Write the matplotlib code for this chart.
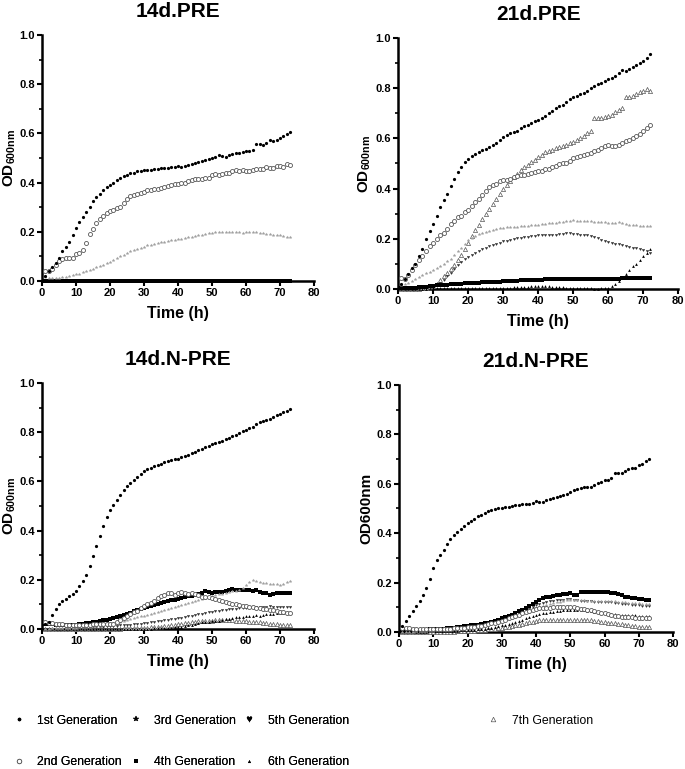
import numpy as np
import matplotlib
matplotlib.use("Agg")
import matplotlib.pyplot as plt
from matplotlib.lines import Line2D
from matplotlib.ticker import MultipleLocator, FormatStrFormatter

plt.rcParams['font.family'] = ['Liberation Sans', 'DejaVu Sans']
plt.rcParams['mathtext.fontset'] = 'custom'
plt.rcParams['mathtext.rm'] = 'Liberation Sans:bold'
plt.rcParams['mathtext.it'] = 'Liberation Sans:bold'
plt.rcParams['mathtext.bf'] = 'Liberation Sans:bold'

# ---------------- data (OD600 readings, one per hour) ----------------
hours = np.arange(1, 74)      # 14d.PRE, 14d.N-PRE, 21d.N-PRE
hours_72 = np.arange(1, 73)   # 21d.PRE

generations = ['1st Generation', '2nd Generation', '3rd Generation', '4th Generation',
               '5th Generation', '6th Generation', '7th Generation']

# 14d.PRE
pre14_g1 = [0.020, 0.040, 0.055, 0.075, 0.095, 0.120, 0.140, 0.160, 0.185, 0.215,
            0.240, 0.260, 0.280, 0.300, 0.325, 0.340, 0.355, 0.370, 0.380, 0.390,
            0.400, 0.410, 0.420, 0.425, 0.432, 0.437, 0.440, 0.445, 0.447, 0.450,
            0.450, 0.452, 0.455, 0.457, 0.458, 0.460, 0.460, 0.462, 0.465, 0.467,
            0.462, 0.467, 0.472, 0.475, 0.480, 0.485, 0.488, 0.490, 0.495, 0.500,
            0.505, 0.510, 0.508, 0.505, 0.510, 0.515, 0.520, 0.522, 0.525, 0.530,
            0.530, 0.532, 0.558, 0.555, 0.552, 0.560, 0.572, 0.568, 0.572, 0.580,
            0.588, 0.597, 0.607]
pre14_g2 = [0.040, 0.040, 0.050, 0.065, 0.080, 0.090, 0.095, 0.095, 0.095, 0.110,
            0.115, 0.125, 0.155, 0.190, 0.210, 0.235, 0.250, 0.265, 0.275, 0.285,
            0.290, 0.295, 0.300, 0.315, 0.335, 0.345, 0.348, 0.352, 0.358, 0.362,
            0.368, 0.370, 0.372, 0.375, 0.378, 0.382, 0.385, 0.390, 0.393, 0.395,
            0.397, 0.400, 0.405, 0.410, 0.413, 0.415, 0.415, 0.418, 0.420, 0.430,
            0.435, 0.432, 0.435, 0.438, 0.440, 0.447, 0.450, 0.448, 0.452, 0.447,
            0.447, 0.450, 0.455, 0.455, 0.455, 0.462, 0.460, 0.460, 0.468, 0.468,
            0.465, 0.475, 0.473]
pre14_g3 = [0.015, 0.013, 0.012, 0.012, 0.013, 0.015, 0.018, 0.020, 0.023, 0.027,
            0.030, 0.035, 0.040, 0.045, 0.050, 0.055, 0.060, 0.065, 0.072, 0.078,
            0.085, 0.092, 0.100, 0.107, 0.113, 0.120, 0.125, 0.130, 0.135, 0.140,
            0.145, 0.148, 0.152, 0.155, 0.158, 0.160, 0.163, 0.165, 0.168, 0.170,
            0.172, 0.175, 0.177, 0.180, 0.182, 0.185, 0.187, 0.190, 0.193, 0.197,
            0.198, 0.200, 0.200, 0.200, 0.200, 0.200, 0.199, 0.198, 0.197, 0.198,
            0.200, 0.199, 0.198, 0.196, 0.193, 0.192, 0.190, 0.188, 0.186, 0.185,
            0.182, 0.178, 0.178]
pre14_g4 = [0.000, 0.000, 0.000, 0.000, 0.000, 0.000, 0.000, 0.000, 0.000, 0.000,
            0.000, 0.000, 0.000, 0.000, 0.000, 0.000, 0.000, 0.000, 0.000, 0.000,
            0.000, 0.000, 0.000, 0.000, 0.000, 0.000, 0.000, 0.000, 0.000, 0.000,
            0.000, 0.000, 0.000, 0.000, 0.000, 0.000, 0.000, 0.000, 0.000, 0.000,
            0.000, 0.000, 0.000, 0.000, 0.000, 0.000, 0.000, 0.000, 0.000, 0.000,
            0.000, 0.000, 0.000, 0.000, 0.000, 0.000, 0.000, 0.000, 0.000, 0.000,
            0.000, 0.000, 0.000, 0.000, 0.000, 0.000, 0.000, 0.000, 0.000, 0.000,
            0.000, 0.000, 0.000]

# 21d.PRE
pre21_g1 = [0.020, 0.040, 0.060, 0.083, 0.100, 0.130, 0.160, 0.200, 0.230, 0.260,
            0.290, 0.325, 0.355, 0.380, 0.410, 0.440, 0.465, 0.487, 0.505, 0.518,
            0.530, 0.537, 0.545, 0.552, 0.558, 0.565, 0.572, 0.580, 0.592, 0.605,
            0.615, 0.620, 0.625, 0.630, 0.640, 0.648, 0.655, 0.662, 0.670, 0.675,
            0.682, 0.690, 0.700, 0.710, 0.720, 0.728, 0.735, 0.745, 0.755, 0.765,
            0.770, 0.775, 0.782, 0.790, 0.800, 0.808, 0.815, 0.822, 0.830, 0.835,
            0.842, 0.850, 0.860, 0.872, 0.870, 0.875, 0.885, 0.893, 0.900, 0.910,
            0.922, 0.935]
pre21_g2 = [0.045, 0.040, 0.055, 0.075, 0.095, 0.115, 0.130, 0.150, 0.170, 0.185,
            0.200, 0.215, 0.225, 0.240, 0.260, 0.270, 0.285, 0.290, 0.305, 0.315,
            0.330, 0.345, 0.360, 0.375, 0.390, 0.405, 0.415, 0.420, 0.430, 0.435,
            0.435, 0.440, 0.445, 0.450, 0.455, 0.455, 0.460, 0.462, 0.467, 0.470,
            0.470, 0.478, 0.480, 0.485, 0.490, 0.498, 0.500, 0.503, 0.510, 0.520,
            0.525, 0.528, 0.535, 0.537, 0.543, 0.550, 0.555, 0.560, 0.568, 0.575,
            0.570, 0.568, 0.572, 0.580, 0.590, 0.595, 0.600, 0.610, 0.618, 0.630,
            0.640, 0.652]
pre21_g3 = [0.015, 0.020, 0.025, 0.032, 0.040, 0.048, 0.055, 0.062, 0.068, 0.075,
            0.083, 0.090, 0.100, 0.110, 0.120, 0.135, 0.150, 0.165, 0.180, 0.195,
            0.205, 0.212, 0.218, 0.223, 0.228, 0.232, 0.236, 0.239, 0.242, 0.244,
            0.245, 0.246, 0.247, 0.248, 0.249, 0.250, 0.252, 0.253, 0.254, 0.255,
            0.258, 0.260, 0.262, 0.262, 0.264, 0.266, 0.268, 0.270, 0.272, 0.273,
            0.272, 0.270, 0.270, 0.271, 0.270, 0.268, 0.268, 0.266, 0.265, 0.262,
            0.262, 0.264, 0.265, 0.262, 0.260, 0.256, 0.255, 0.253, 0.252, 0.250,
            0.250, 0.250]
pre21_g4 = [0.002, 0.003, 0.004, 0.004, 0.005, 0.006, 0.007, 0.008, 0.010, 0.012,
            0.014, 0.015, 0.016, 0.017, 0.018, 0.019, 0.020, 0.021, 0.022, 0.022,
            0.023, 0.024, 0.025, 0.026, 0.026, 0.027, 0.028, 0.028, 0.029, 0.030,
            0.031, 0.032, 0.032, 0.033, 0.034, 0.034, 0.035, 0.036, 0.036, 0.037,
            0.037, 0.038, 0.038, 0.038, 0.039, 0.039, 0.039, 0.040, 0.040, 0.040,
            0.040, 0.040, 0.040, 0.040, 0.040, 0.040, 0.040, 0.040, 0.041, 0.041,
            0.041, 0.041, 0.041, 0.042, 0.042, 0.042, 0.042, 0.042, 0.042, 0.042,
            0.042, 0.042]
pre21_g5 = [0.000, 0.000, 0.001, 0.002, 0.003, 0.004, 0.005, 0.007, 0.009, 0.010,
            0.015, 0.025, 0.035, 0.050, 0.065, 0.080, 0.095, 0.107, 0.118, 0.128,
            0.137, 0.145, 0.152, 0.158, 0.164, 0.170, 0.175, 0.180, 0.185, 0.190,
            0.193, 0.196, 0.199, 0.202, 0.205, 0.207, 0.209, 0.211, 0.213, 0.215,
            0.216, 0.217, 0.217, 0.216, 0.217, 0.218, 0.220, 0.222, 0.222, 0.220,
            0.218, 0.216, 0.215, 0.215, 0.212, 0.207, 0.202, 0.196, 0.190, 0.186,
            0.183, 0.180, 0.180, 0.177, 0.172, 0.168, 0.165, 0.162, 0.158, 0.155,
            0.150, 0.145]
pre21_g6 = [0.000, 0.000, 0.000, 0.000, 0.000, 0.001, 0.001, 0.001, 0.002, 0.002,
            0.002, 0.002, 0.002, 0.002, 0.002, 0.002, 0.002, 0.003, 0.003, 0.003,
            0.003, 0.003, 0.003, 0.003, 0.003, 0.003, 0.003, 0.004, 0.004, 0.004,
            0.005, 0.005, 0.006, 0.007, 0.008, 0.008, 0.009, 0.010, 0.011, 0.012,
            0.012, 0.011, 0.010, 0.009, 0.008, 0.007, 0.006, 0.005, 0.005, 0.004,
            0.004, 0.003, 0.003, 0.002, 0.002, 0.001, 0.001, 0.002, 0.003, 0.005,
            0.010, 0.020, 0.030, 0.045, 0.060, 0.075, 0.090, 0.100, 0.115, 0.130,
            0.145, 0.160]
pre21_g7 = [0.000, 0.000, 0.000, 0.000, 0.000, 0.000, 0.003, 0.005, 0.008, 0.012,
            0.020, 0.035, 0.050, 0.065, 0.080, 0.095, 0.115, 0.135, 0.160, 0.185,
            0.210, 0.235, 0.255, 0.280, 0.300, 0.320, 0.340, 0.360, 0.380, 0.400,
            0.415, 0.430, 0.445, 0.460, 0.475, 0.485, 0.495, 0.505, 0.515, 0.525,
            0.535, 0.545, 0.550, 0.555, 0.560, 0.565, 0.570, 0.575, 0.580, 0.585,
            0.595, 0.600, 0.610, 0.620, 0.630, 0.680, 0.680, 0.682, 0.685, 0.690,
            0.695, 0.705, 0.712, 0.720, 0.765, 0.765, 0.770, 0.775, 0.785, 0.790,
            0.795, 0.790]

# 14d.N-PRE
npre14_g1 = [0.022, 0.030, 0.058, 0.080, 0.100, 0.115, 0.122, 0.133, 0.144, 0.155,
             0.173, 0.194, 0.220, 0.255, 0.295, 0.336, 0.380, 0.417, 0.455, 0.485,
             0.505, 0.526, 0.543, 0.566, 0.583, 0.593, 0.604, 0.618, 0.631, 0.641,
             0.650, 0.656, 0.662, 0.667, 0.672, 0.677, 0.681, 0.685, 0.689, 0.693,
             0.698, 0.703, 0.708, 0.714, 0.720, 0.726, 0.732, 0.738, 0.745, 0.750,
             0.755, 0.760, 0.766, 0.772, 0.778, 0.784, 0.790, 0.796, 0.803, 0.810,
             0.816, 0.822, 0.835, 0.840, 0.845, 0.850, 0.855, 0.862, 0.868, 0.875,
             0.882, 0.888, 0.895]
npre14_g2 = [0.028, 0.025, 0.023, 0.022, 0.020, 0.019, 0.018, 0.018, 0.018, 0.018,
             0.018, 0.018, 0.018, 0.018, 0.019, 0.019, 0.020, 0.020, 0.020, 0.021,
             0.022, 0.030, 0.037, 0.045, 0.052, 0.060, 0.068, 0.075, 0.085, 0.095,
             0.100, 0.105, 0.115, 0.125, 0.135, 0.140, 0.145, 0.148, 0.140, 0.145,
             0.150, 0.148, 0.143, 0.148, 0.142, 0.138, 0.132, 0.130, 0.130, 0.125,
             0.122, 0.118, 0.114, 0.110, 0.106, 0.103, 0.100, 0.097, 0.094, 0.092,
             0.090, 0.088, 0.086, 0.085, 0.083, 0.081, 0.078, 0.076, 0.073, 0.070,
             0.068, 0.066, 0.064]
npre14_g3 = [0.002, 0.002, 0.003, 0.003, 0.004, 0.004, 0.005, 0.005, 0.006, 0.006,
             0.007, 0.008, 0.009, 0.010, 0.011, 0.012, 0.014, 0.016, 0.018, 0.020,
             0.023, 0.026, 0.029, 0.032, 0.035, 0.039, 0.043, 0.047, 0.051, 0.055,
             0.059, 0.063, 0.067, 0.071, 0.075, 0.079, 0.083, 0.087, 0.091, 0.095,
             0.099, 0.103, 0.107, 0.111, 0.115, 0.119, 0.123, 0.127, 0.131, 0.135,
             0.138, 0.141, 0.144, 0.147, 0.150, 0.153, 0.156, 0.160, 0.168, 0.180,
             0.192, 0.200, 0.195, 0.190, 0.188, 0.186, 0.185, 0.184, 0.182, 0.180,
             0.185, 0.190, 0.195]
npre14_g4 = [0.022, 0.022, 0.020, 0.018, 0.016, 0.015, 0.015, 0.016, 0.017, 0.018,
             0.020, 0.022, 0.024, 0.026, 0.028, 0.030, 0.032, 0.035, 0.038, 0.042,
             0.046, 0.050, 0.054, 0.058, 0.063, 0.067, 0.072, 0.077, 0.082, 0.087,
             0.090, 0.094, 0.098, 0.102, 0.106, 0.110, 0.114, 0.117, 0.120, 0.124,
             0.127, 0.130, 0.133, 0.136, 0.140, 0.143, 0.146, 0.155, 0.150, 0.148,
             0.150, 0.151, 0.152, 0.155, 0.157, 0.162, 0.160, 0.158, 0.158, 0.157,
             0.157, 0.156, 0.157, 0.150, 0.148, 0.145, 0.140, 0.142, 0.145, 0.148,
             0.146, 0.146, 0.146]
npre14_g5 = [0.000, 0.000, 0.001, 0.001, 0.002, 0.002, 0.003, 0.003, 0.004, 0.004,
             0.005, 0.005, 0.006, 0.006, 0.007, 0.008, 0.009, 0.010, 0.011, 0.012,
             0.013, 0.014, 0.015, 0.016, 0.017, 0.018, 0.019, 0.020, 0.021, 0.023,
             0.025, 0.027, 0.029, 0.031, 0.033, 0.035, 0.037, 0.039, 0.041, 0.043,
             0.045, 0.048, 0.051, 0.054, 0.057, 0.060, 0.063, 0.066, 0.068, 0.070,
             0.072, 0.074, 0.076, 0.078, 0.080, 0.081, 0.083, 0.084, 0.086, 0.087,
             0.088, 0.089, 0.089, 0.090, 0.091, 0.091, 0.092, 0.091, 0.090, 0.090,
             0.090, 0.090, 0.090]
npre14_g6 = [0.000, 0.000, 0.000, 0.000, 0.000, 0.000, 0.000, 0.000, 0.000, 0.000,
             0.000, 0.000, 0.000, 0.000, 0.000, 0.000, 0.000, 0.000, 0.000, 0.001,
             0.001, 0.001, 0.001, 0.001, 0.001, 0.001, 0.001, 0.001, 0.001, 0.001,
             0.002, 0.002, 0.003, 0.003, 0.004, 0.004, 0.005, 0.006, 0.007, 0.008,
             0.010, 0.012, 0.015, 0.018, 0.021, 0.024, 0.027, 0.030, 0.030, 0.031,
             0.032, 0.034, 0.036, 0.040, 0.042, 0.045, 0.047, 0.048, 0.050, 0.052,
             0.053, 0.055, 0.057, 0.055, 0.058, 0.060, 0.062, 0.060, 0.064, 0.066,
             0.064, 0.066, 0.065]
npre14_g7 = [0.000, 0.000, 0.000, 0.000, 0.000, 0.000, 0.000, 0.000, 0.000, 0.000,
             0.000, 0.000, 0.000, 0.000, 0.000, 0.001, 0.001, 0.001, 0.001, 0.001,
             0.002, 0.002, 0.002, 0.003, 0.003, 0.003, 0.004, 0.004, 0.005, 0.005,
             0.006, 0.007, 0.008, 0.009, 0.010, 0.012, 0.014, 0.016, 0.018, 0.020,
             0.022, 0.024, 0.026, 0.028, 0.030, 0.031, 0.032, 0.033, 0.034, 0.034,
             0.035, 0.036, 0.036, 0.037, 0.036, 0.035, 0.034, 0.033, 0.032, 0.031,
             0.030, 0.030, 0.030, 0.028, 0.026, 0.024, 0.022, 0.020, 0.019, 0.018,
             0.017, 0.016, 0.015]

# 21d.N-PRE
npre21_g1 = [0.026, 0.043, 0.063, 0.084, 0.104, 0.127, 0.150, 0.178, 0.215, 0.258,
             0.293, 0.313, 0.333, 0.358, 0.377, 0.394, 0.406, 0.417, 0.430, 0.441,
             0.448, 0.459, 0.468, 0.475, 0.482, 0.488, 0.493, 0.497, 0.500, 0.502,
             0.505, 0.505, 0.510, 0.512, 0.515, 0.517, 0.520, 0.520, 0.522, 0.529,
             0.525, 0.528, 0.533, 0.538, 0.541, 0.545, 0.550, 0.555, 0.560, 0.567,
             0.573, 0.578, 0.582, 0.585, 0.585, 0.588, 0.595, 0.602, 0.607, 0.615,
             0.615, 0.622, 0.645, 0.645, 0.642, 0.650, 0.660, 0.662, 0.665, 0.675,
             0.682, 0.692, 0.700]
npre21_g2 = [0.015, 0.015, 0.015, 0.014, 0.013, 0.012, 0.011, 0.010, 0.010, 0.010,
             0.010, 0.011, 0.012, 0.013, 0.014, 0.015, 0.016, 0.017, 0.018, 0.019,
             0.020, 0.022, 0.024, 0.026, 0.029, 0.032, 0.035, 0.038, 0.042, 0.046,
             0.050, 0.055, 0.060, 0.065, 0.070, 0.075, 0.080, 0.085, 0.090, 0.094,
             0.096, 0.097, 0.098, 0.099, 0.100, 0.100, 0.101, 0.102, 0.103, 0.103,
             0.100, 0.097, 0.094, 0.091, 0.089, 0.087, 0.084, 0.081, 0.078, 0.075,
             0.072, 0.069, 0.066, 0.064, 0.062, 0.061, 0.060, 0.059, 0.058, 0.057,
             0.056, 0.055, 0.055]
npre21_g3 = [0.000, 0.000, 0.001, 0.001, 0.002, 0.002, 0.003, 0.003, 0.004, 0.005,
             0.006, 0.007, 0.008, 0.009, 0.010, 0.011, 0.013, 0.015, 0.017, 0.019,
             0.021, 0.023, 0.025, 0.027, 0.030, 0.033, 0.036, 0.039, 0.043, 0.047,
             0.051, 0.055, 0.060, 0.065, 0.070, 0.075, 0.080, 0.085, 0.090, 0.095,
             0.100, 0.104, 0.108, 0.112, 0.116, 0.120, 0.123, 0.126, 0.128, 0.130,
             0.130, 0.129, 0.128, 0.128, 0.127, 0.126, 0.125, 0.124, 0.124, 0.125,
             0.126, 0.127, 0.125, 0.123, 0.121, 0.120, 0.119, 0.118, 0.117, 0.116,
             0.115, 0.115, 0.114]
npre21_g4 = [0.005, 0.005, 0.005, 0.006, 0.006, 0.007, 0.008, 0.009, 0.010, 0.011,
             0.012, 0.013, 0.014, 0.015, 0.016, 0.018, 0.020, 0.022, 0.024, 0.026,
             0.027, 0.028, 0.030, 0.032, 0.035, 0.038, 0.042, 0.046, 0.050, 0.055,
             0.060, 0.065, 0.070, 0.076, 0.083, 0.090, 0.098, 0.106, 0.114, 0.122,
             0.130, 0.136, 0.140, 0.143, 0.145, 0.148, 0.150, 0.152, 0.155, 0.157,
             0.150, 0.148, 0.160, 0.162, 0.161, 0.160, 0.160, 0.161, 0.163, 0.162,
             0.160, 0.158, 0.157, 0.153, 0.148, 0.143, 0.140, 0.138, 0.137, 0.135,
             0.133, 0.131, 0.128]
npre21_g5 = [0.002, 0.002, 0.003, 0.003, 0.004, 0.004, 0.005, 0.006, 0.007, 0.008,
             0.009, 0.010, 0.011, 0.012, 0.013, 0.015, 0.017, 0.019, 0.021, 0.023,
             0.025, 0.027, 0.029, 0.031, 0.033, 0.036, 0.039, 0.042, 0.046, 0.050,
             0.054, 0.058, 0.063, 0.068, 0.074, 0.080, 0.087, 0.094, 0.101, 0.108,
             0.114, 0.118, 0.121, 0.124, 0.126, 0.128, 0.130, 0.131, 0.132, 0.132,
             0.130, 0.128, 0.127, 0.126, 0.125, 0.124, 0.123, 0.123, 0.122, 0.122,
             0.121, 0.120, 0.118, 0.116, 0.115, 0.113, 0.112, 0.111, 0.110, 0.108,
             0.107, 0.106, 0.105]
npre21_g6 = [0.000, 0.000, 0.000, 0.000, 0.001, 0.001, 0.001, 0.001, 0.002, 0.002,
             0.002, 0.003, 0.003, 0.004, 0.004, 0.005, 0.005, 0.006, 0.006, 0.007,
             0.008, 0.009, 0.010, 0.012, 0.014, 0.016, 0.018, 0.021, 0.024, 0.027,
             0.030, 0.034, 0.038, 0.042, 0.046, 0.050, 0.055, 0.060, 0.064, 0.068,
             0.072, 0.075, 0.078, 0.080, 0.082, 0.084, 0.086, 0.088, 0.089, 0.090,
             0.090, 0.089, 0.088, 0.087, 0.086, 0.084, 0.082, 0.080, 0.078, 0.076,
             0.074, 0.072, 0.071, 0.070, 0.069, 0.068, 0.068, 0.067, 0.067, 0.066,
             0.066, 0.065, 0.065]
npre21_g7 = [0.000, 0.000, 0.000, 0.000, 0.000, 0.000, 0.000, 0.000, 0.000, 0.000,
             0.000, 0.000, 0.000, 0.001, 0.001, 0.001, 0.002, 0.002, 0.003, 0.003,
             0.004, 0.005, 0.006, 0.007, 0.008, 0.010, 0.012, 0.014, 0.016, 0.018,
             0.020, 0.022, 0.024, 0.027, 0.030, 0.033, 0.036, 0.039, 0.042, 0.045,
             0.047, 0.048, 0.049, 0.049, 0.050, 0.050, 0.049, 0.049, 0.048, 0.048,
             0.048, 0.048, 0.049, 0.049, 0.050, 0.048, 0.046, 0.044, 0.042, 0.040,
             0.038, 0.036, 0.035, 0.033, 0.031, 0.029, 0.027, 0.025, 0.024, 0.022,
             0.021, 0.020, 0.019]

# marker look for each generation (Prism style, no connecting lines)
STYLE = {
    '1st Generation': dict(marker='o', ms=2.3, mfc='black', mec='black', mew=0),
    '2nd Generation': dict(marker='o', ms=2.9, mfc='white', mec='#555555', mew=0.6),
    '3rd Generation': dict(marker='*', ms=2.2, mfc='#a0a0a0', mec='#a0a0a0', mew=0.2),
    '4th Generation': dict(marker='s', ms=2.3, mfc='black', mec='black', mew=0),
    '5th Generation': dict(marker='$\u2665$', ms=2.2, mfc='#333333', mec='#333333', mew=0),
    '6th Generation': dict(marker='^', ms=2.0, mfc='black', mec='black', mew=0),
    '7th Generation': dict(marker='^', ms=3.0, mfc='white', mec='#555555', mew=0.5),
}


def draw_panel(ax, x, series, title, ylabel, ylab_x):
    # series drawn back to front so the filled dots stay on top
    for gen, vals in reversed(series):
        ax.plot(x, vals, linestyle='none', clip_on=False, zorder=3, **STYLE[gen])

    ax.set_xlim(0, 80)
    ax.set_ylim(0, 1.0)
    ax.xaxis.set_major_locator(MultipleLocator(10))
    ax.yaxis.set_major_locator(MultipleLocator(0.2))
    ax.yaxis.set_minor_locator(MultipleLocator(0.1))
    ax.yaxis.set_major_formatter(FormatStrFormatter('%.1f'))

    for side in ['top', 'right']:
        ax.spines[side].set_visible(False)
    for side in ['left', 'bottom']:
        ax.spines[side].set_linewidth(1.8)

    ax.tick_params(which='major', direction='out', length=3.5, width=1.5, pad=1.5)
    ax.tick_params(which='minor', direction='out', length=2.5, width=1.2)
    for lab in ax.get_xticklabels() + ax.get_yticklabels():
        lab.set_fontsize(8)
        lab.set_fontweight('bold')

    ax.set_title(title, fontsize=15, fontweight='bold', pad=13)
    ax.set_xlabel('Time (h)', fontsize=11.5, fontweight='bold', labelpad=6)
    ax.set_ylabel(ylabel, fontsize=11, fontweight='bold')
    ax.yaxis.set_label_coords(ylab_x, 0.5)


fig = plt.figure(figsize=(6.85, 7.69), dpi=100)

ax1 = fig.add_axes([0.0613, 0.6346, 0.397, 0.320])
ax2 = fig.add_axes([0.5810, 0.6242, 0.409, 0.3264])
ax3 = fig.add_axes([0.0613, 0.1820, 0.397, 0.320])
ax4 = fig.add_axes([0.5825, 0.1782, 0.400, 0.3212])

draw_panel(ax1, hours,
           [('1st Generation', pre14_g1), ('2nd Generation', pre14_g2),
            ('3rd Generation', pre14_g3), ('4th Generation', pre14_g4)],
           '14d.PRE', 'OD$_{600nm}$', -0.087)
draw_panel(ax2, hours_72,
           [('1st Generation', pre21_g1), ('2nd Generation', pre21_g2),
            ('3rd Generation', pre21_g3), ('4th Generation', pre21_g4),
            ('5th Generation', pre21_g5), ('6th Generation', pre21_g6),
            ('7th Generation', pre21_g7)],
           '21d.PRE', 'OD$_{600nm}$', -0.088)
draw_panel(ax3, hours,
           [('1st Generation', npre14_g1), ('2nd Generation', npre14_g2),
            ('3rd Generation', npre14_g3), ('4th Generation', npre14_g4),
            ('5th Generation', npre14_g5), ('6th Generation', npre14_g6),
            ('7th Generation', npre14_g7)],
           '14d.N-PRE', 'OD$_{600nm}$', -0.087)
draw_panel(ax4, hours,
           [('1st Generation', npre21_g1), ('2nd Generation', npre21_g2),
            ('3rd Generation', npre21_g3), ('4th Generation', npre21_g4),
            ('5th Generation', npre21_g5), ('6th Generation', npre21_g6),
            ('7th Generation', npre21_g7)],
           '21d.N-PRE', 'OD600nm', -0.092)

# legend: first six generations in three columns, the 7th off to the right
leg_style = {g: dict(STYLE[g]) for g in generations}
leg_style['3rd Generation'].update(mfc='black', mec='black', ms=4.0)
leg_style['5th Generation'].update(mfc='black', mec='black', ms=4.0)
handles = [Line2D([], [], linestyle='none', **leg_style[g]) for g in generations]
leg1 = fig.legend(handles[:6], generations[:6], ncol=3, frameon=False,
                  loc='upper left', bbox_to_anchor=(0.003, 0.085),
                  fontsize=8.8, markerscale=1.1, handlelength=1.0,
                  handletextpad=1.0, columnspacing=0.6, labelspacing=2.4)
leg2 = fig.legend(handles[6:], generations[6:], frameon=False,
                  loc='upper left', bbox_to_anchor=(0.695, 0.085),
                  fontsize=8.8, markerscale=1.1, handlelength=1.0,
                  handletextpad=1.0)
fig.add_artist(leg1)

fig.savefig('out.png', dpi=100)
